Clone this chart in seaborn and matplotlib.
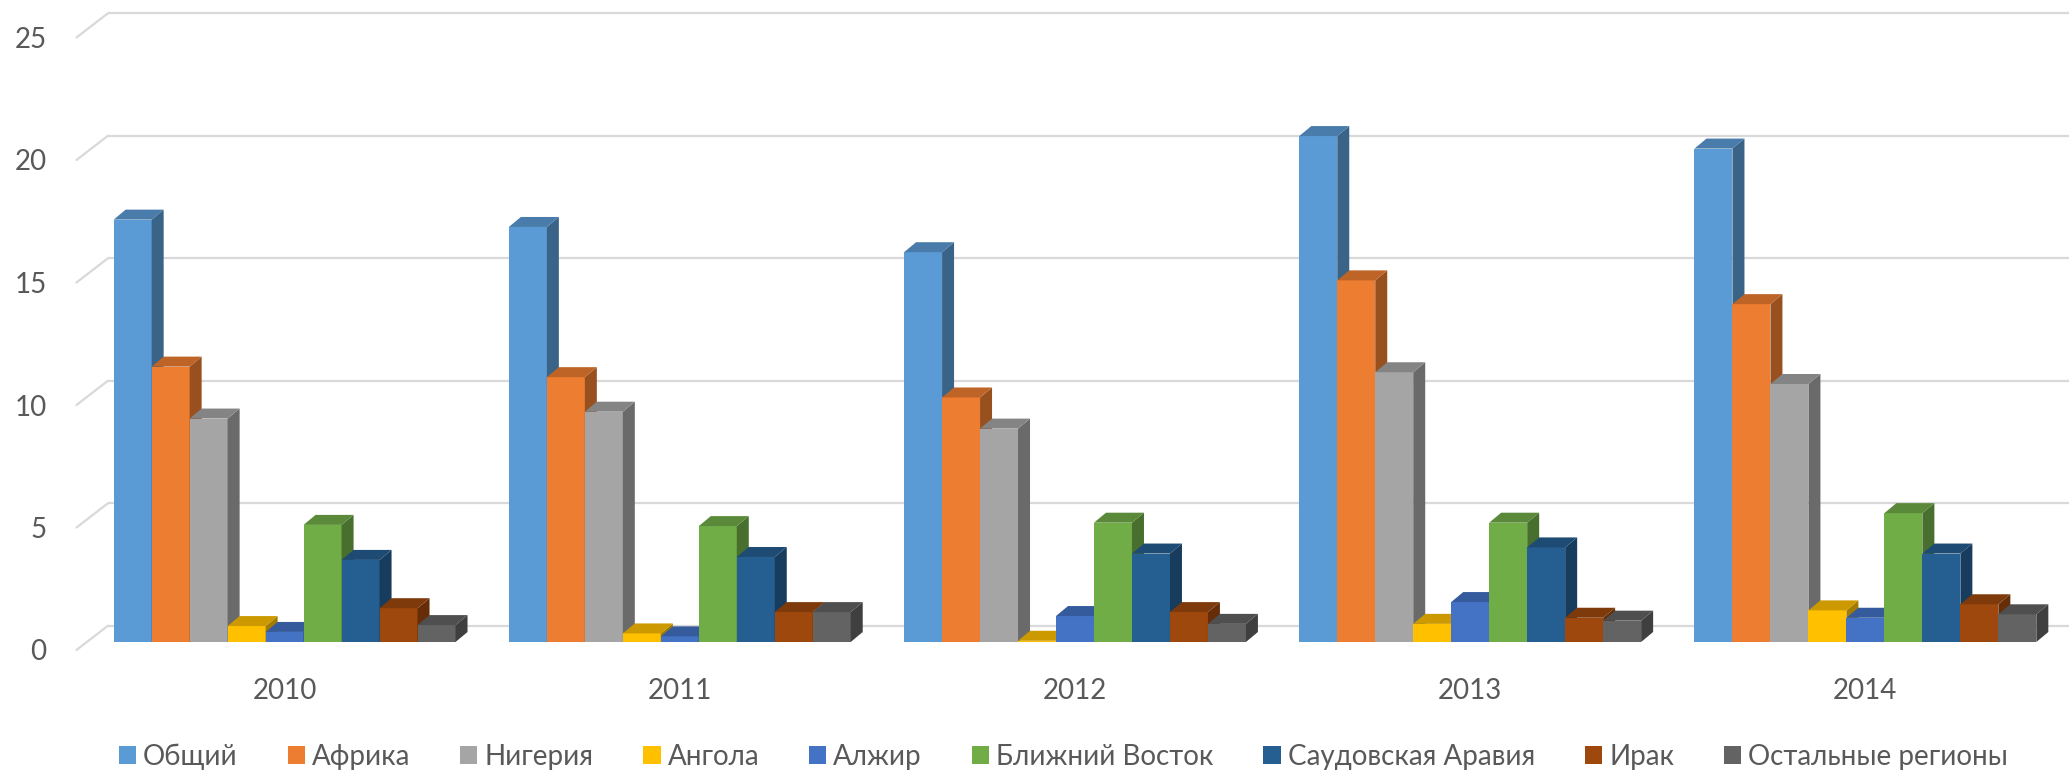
import numpy as np
import pandas as pd
import seaborn as sns
import matplotlib.pyplot as plt
from matplotlib.patches import Polygon, Patch
from matplotlib import transforms
from matplotlib.colors import to_rgb

years = ['2010', '2011', '2012', '2013', '2014']
regions = ['Общий', 'Африка', 'Нигерия', 'Ангола', 'Алжир', 'Ближний Восток',
           'Саудовская Аравия', 'Ирак', 'Остальные регионы']
colors = ['#5B9BD5', '#ED7D31', '#A5A5A5', '#FFC000', '#4472C4', '#70AD47',
          '#255E91', '#9E480E', '#636363']

obshchiy = [17.24, 16.94, 15.91, 20.65, 20.14]
afrika = [11.24, 10.81, 9.98, 14.76, 13.79]
nigeriya = [9.12, 9.40, 8.71, 11.01, 10.53]
angola = [0.65, 0.35, 0.05, 0.74, 1.29]
alzhir = [0.41, 0.23, 1.06, 1.63, 0.99]
blizhniy_vostok = [4.78, 4.73, 4.87, 4.87, 5.26]
saud_araviya = [3.35, 3.47, 3.61, 3.86, 3.61]
irak = [1.38, 1.22, 1.22, 0.99, 1.54]
ostalnye = [0.69, 1.22, 0.74, 0.87, 1.13]

series = [obshchiy, afrika, nigeriya, angola, alzhir, blizhniy_vostok,
          saud_araviya, irak, ostalnye]
rows = []
for reg, vals in zip(regions, series):
    for yr, v in zip(years, vals):
        rows.append({'year': yr, 'region': reg, 'value': v})
df = pd.DataFrame(rows)

sns.set_style('white')
plt.rcParams['font.family'] = ['Lato', 'DejaVu Sans']

W, H = 2069, 774
fig = plt.figure(figsize=(W / 100, H / 100), dpi=100)
# axes placed in pixels: bar plane zero at y=642, 25 at y=29.5
ax_l, ax_r, ax_b, ax_t = 87, 2063, 642, 29.5
ax = fig.add_axes([ax_l / W, 1 - ax_b / H, (ax_r - ax_l) / W, (ax_b - ax_t) / H])

sns.barplot(data=df, x='year', y='value', hue='region', hue_order=regions,
            palette=colors, width=0.865, gap=0, linewidth=0, saturation=1,
            legend=False, ax=ax)
ax.set_xlim(-0.5, 4.5)
ax.set_ylim(0, 25)

xu = (ax_r - ax_l) / 5.0       # px per x unit
yu = (ax_b - ax_t) / 25.0      # px per y unit
dx, dy = 12 / xu, 10 / yu      # bar depth

def shade(c, f):
    r, g, b = to_rgb(c)
    return (r * f, g * f, b * f)

# 3D faces
nb = len(years)
for i, p in enumerate(ax.patches):
    k = i // nb
    c = colors[k]
    p.set_zorder(3 + k)
    x, w, h = p.get_x(), p.get_width(), p.get_height()
    side = Polygon([(x + w, 0), (x + w + dx, dy), (x + w + dx, h + dy), (x + w, h)],
                   closed=True, facecolor=shade(c, 0.64), edgecolor='none', zorder=3 + k)
    top = Polygon([(x, h), (x + dx, h + dy), (x + w + dx, h + dy), (x + w, h)],
                  closed=True, facecolor=shade(c, 0.8), edgecolor='none', zorder=3 + k)
    ax.add_patch(side)
    ax.add_patch(top)

# back-wall grid and floor diagonals
back_y = 16.3 / yu
front_y = -8 / yu
x_front = (76.5 - ax_l) / xu - 0.5
x_back = (108 - ax_l) / xu - 0.5
x_end = (W - ax_l) / xu - 0.5
for v in range(0, 30, 5):
    ax.plot([x_back, x_end], [v + back_y, v + back_y], color='#D9D9D9', lw=1.6,
            zorder=1, clip_on=False, solid_capstyle='butt')
    ax.plot([x_front, x_back], [v + front_y, v + back_y], color='#D9D9D9', lw=1.6,
            zorder=1, clip_on=False)

sns.despine(ax=ax, left=True, bottom=True)
ax.set_xlabel('')
ax.set_ylabel('')
ax.set_yticks(range(0, 30, 5))
ax.tick_params(axis='both', length=0, colors='#595959', labelsize=20)
ax.tick_params(axis='y', pad=29)
ax.tick_params(axis='x', pad=26)
shift = transforms.ScaledTranslation(0, -8 / 100, fig.dpi_scale_trans)
for lab in ax.get_yticklabels():
    lab.set_transform(lab.get_transform() + shift)
ax.grid(False)

handles = [Patch(facecolor=c, edgecolor='none') for c in colors]
leg = fig.legend(handles, regions, loc='center', bbox_to_anchor=(0.514, 1 - 757 / H),
                 ncol=9, frameon=False, fontsize=20, handlelength=0.62,
                 handleheight=0.62, handletextpad=0.25, columnspacing=1.8)
for t in leg.get_texts():
    t.set_color('#595959')

fig.savefig('out.png', dpi=100)
